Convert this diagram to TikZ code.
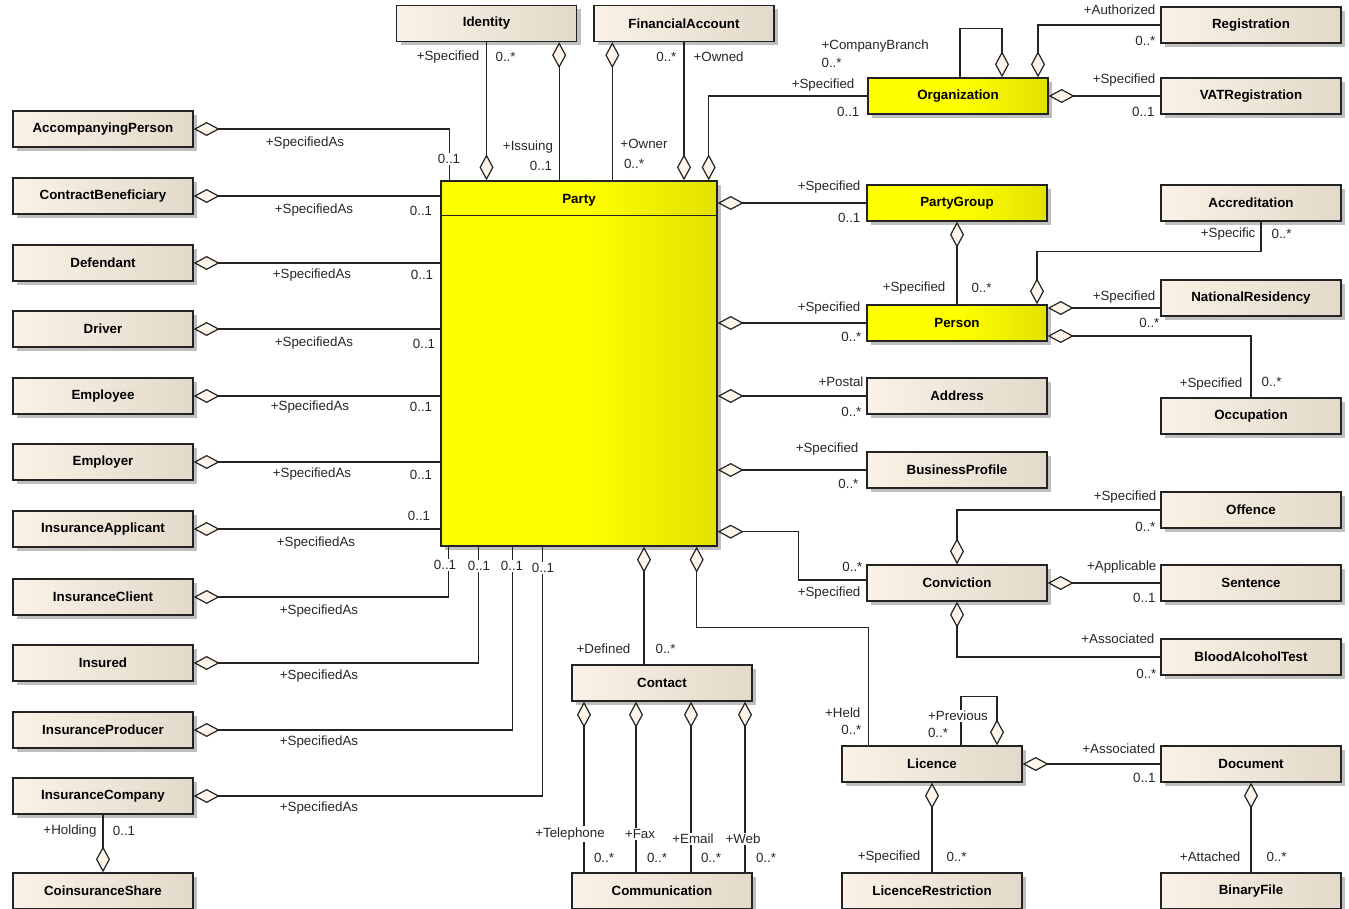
\documentclass[tikz,border=0pt]{standalone}
\usepackage{fontspec}
\setmainfont{Liberation Sans}
\usetikzlibrary{arrows.meta,shadows}

\definecolor{beigeL}{RGB}{250,242,230}
\definecolor{beigeD}{RGB}{226,217,202}
\definecolor{yelD}{RGB}{226,226,0}
\definecolor{diafill}{RGB}{253,245,233}
\definecolor{edge}{RGB}{35,35,35}

\pgfdeclarehorizontalshading{beigeshade}{100bp}{color(0bp)=(beigeL); color(25bp)=(beigeL); color(75bp)=(beigeD); color(100bp)=(beigeD)}
\pgfdeclarehorizontalshading{yelshade}{100bp}{color(0bp)=(yellow); color(25bp)=(yellow); color(50bp)=(yellow); color(75bp)=(yelD); color(100bp)=(yelD)}

\begin{document}
\begin{tikzpicture}[x=0.75pt,y=-0.75pt,
  cls/.style={draw=edge,line width=1pt,shade,shading=beigeshade,minimum width=135pt,minimum height=27pt,inner sep=0pt,
    font=\fontsize{10}{12}\selectfont\bfseries,drop shadow={shadow xshift=3pt,shadow yshift=-3pt,fill=black!25,opacity=1}},
  ycls/.style={cls,shading=yelshade},
  role/.style={font=\fontsize{10}{11}\selectfont,text=black!85,inner sep=1pt},
  cut/.style={role,fill=white},
  assoc/.style={draw=edge,line width=0.9pt},
  agg/.style={assoc,{Diamond[length=19.5pt,width=10.5pt,fill=diafill]}-}]
\useasboundingbox (0,0) rectangle (1349,909);

\node[ycls,minimum width=207pt,minimum height=273.75pt] (party) at (579,363.5) {};
\node[inner sep=0pt,font=\fontsize{10}{12}\selectfont\bfseries] (partyname) at (579,200) {Party};
\draw[line width=1pt,draw=edge] ([yshift=-26.25pt]party.north west) -- ([yshift=-26.25pt]party.north east);

% left column
\node[cls] (accp) at (103,129) {AccompanyingPerson};
\node[cls] (conb) at (103,196) {ContractBeneficiary};
\node[cls] (dfd) at (103,263) {Defendant};
\node[cls] (drv) at (103,329) {Driver};
\node[cls] (empe) at (103,396) {Employee};
\node[cls] (empr) at (103,462) {Employer};
\node[cls] (iapp) at (103,529) {InsuranceApplicant};
\node[cls] (icli) at (103,597) {InsuranceClient};
\node[cls] (insd) at (103,663) {Insured};
\node[cls] (iprd) at (103,730) {InsuranceProducer};
\node[cls] (icmp) at (103,796) {InsuranceCompany};
\node[cls] (coin) at (103,891) {CoinsuranceShare};

% top and right
\node[cls] (idn) at (486.5,23.5) {Identity};
\node[cls] (fin) at (684,23.5) {FinancialAccount};
\node[ycls] (org) at (958,96) {Organization};
\node[cls] (reg) at (1251,25) {Registration};
\node[cls] (vat) at (1251,96) {VATRegistration};
\node[ycls] (pgrp) at (957,203) {PartyGroup};
\node[cls] (accr) at (1251,203) {Accreditation};
\node[ycls] (pers) at (957,323) {Person};
\node[cls] (natr) at (1251,298) {NationalResidency};
\node[cls] (addr) at (957,396) {Address};
\node[cls] (occ) at (1251,416) {Occupation};
\node[cls] (bprf) at (957,470) {BusinessProfile};
\node[cls] (offn) at (1251,510) {Offence};
\node[cls] (conv) at (957,583) {Conviction};
\node[cls] (sent) at (1251,583) {Sentence};
\node[cls] (bat) at (1251,657) {BloodAlcoholTest};
\node[cls] (lic) at (932,764) {Licence};
\node[cls] (doc) at (1251,764) {Document};
\node[cls] (lres) at (932,891) {LicenceRestriction};
\node[cls] (bfil) at (1251,891) {BinaryFile};
\node[cls] (con) at (662,683) {Contact};
\node[cls] (comm) at (662,891) {Communication};

\coordinate (issA) at ([xshift=-13.5pt]idn.south east);
\coordinate (ownA) at ([xshift=14.25pt]fin.south west);
\coordinate (conA) at ([xshift=-13.5pt]con.north);
\coordinate (telA) at ([xshift=-58.5pt]con.south);
\coordinate (faxA) at ([xshift=-19.5pt]con.south);
\coordinate (emlA) at ([xshift=21.75pt]con.south);
\coordinate (webA) at ([xshift=62.25pt]con.south);

% connectors
\draw[agg] (accp.east) -| ([xshift=6.75pt]party.north west);
\draw[agg] (conb.east) -- (conb.east -| party.west);
\draw[agg] (dfd.east) -- (dfd.east -| party.west);
\draw[agg] (drv.east) -- (drv.east -| party.west);
\draw[agg] (empe.east) -- (empe.east -| party.west);
\draw[agg] (empr.east) -- (empr.east -| party.west);
\draw[agg] (iapp.east) -- (iapp.east -| party.west);
\draw[agg] (icli.east) -| ([xshift=6pt]party.south west);
\draw[agg] (insd.east) -| ([xshift=28.5pt]party.south west);
\draw[agg] (iprd.east) -| ([xshift=54pt]party.south west);
\draw[agg] (icmp.east) -| ([xshift=76.5pt]party.south west);
\draw[agg] (coin.north) -- (icmp.south);

\draw[agg] (idn.south |- party.north) -- (idn.south);
\draw[agg] (issA) -- (issA |- party.north);
\draw[agg] (ownA) -- (ownA |- party.north);
\draw[agg] (fin.south |- party.north) -- (fin.south);
\draw[agg] ([xshift=-6.75pt]party.north east) |- (org.west);
\draw[agg] ([xshift=33pt]org.north) -- ++(0,36.75pt) -| ([xshift=1.5pt]org.north);
\draw[agg] ([xshift=60pt]org.north) |- (reg.west);
\draw[agg] (org.east) -- (vat.west);

\draw[agg] (pgrp.west -| party.east) -- (pgrp.west);
\draw[agg] (pgrp.south) -- (pers.north);
\draw[agg] ([xshift=60pt]pers.north) -- ++(0,39.75pt) -| ([xshift=7.5pt]accr.south);
\draw[agg] (pers.west -| party.east) -- (pers.west);
\draw[agg] ([yshift=11.25pt]pers.east) -- ([yshift=11.25pt]pers.east -| natr.west);
\draw[agg] ([yshift=-9.75pt]pers.east) -| (occ.north);
\draw[agg] (addr.west -| party.east) -- (addr.west);
\draw[agg] (bprf.west -| party.east) -- (bprf.west);

\draw[agg] ([yshift=11.25pt]party.south east) -- ++(60.75pt,0) |- ([yshift=2.25pt]conv.west);
\draw[agg] (conv.north) |- (offn.west);
\draw[agg] (conv.east) -- (sent.west);
\draw[agg] (conv.south) |- (bat.west);

\draw[agg] (conA |- party.south) -- (conA);
\draw[agg] ([xshift=-15.75pt]party.south east) -- ++(0,-60.75pt) -| ([xshift=20.25pt]lic.north west);
\draw[agg] ([xshift=48.75pt]lic.north) -- ++(0,36.75pt) -| ([xshift=21.75pt]lic.north);
\draw[agg] (lic.east) -- (doc.west);
\draw[agg] (lic.south) -- (lres.north);
\draw[agg] (doc.south) -- (bfil.north);
\draw[agg] (telA) -- (telA |- comm.north);
\draw[agg] (faxA) -- (faxA |- comm.north);
\draw[agg] (emlA) -- (emlA |- comm.north);
\draw[agg] (webA) -- (webA |- comm.north);

% role names and multiplicities
\node[role] (sa1) at (305,143) {+SpecifiedAs};
\node[cut] (m1) at (449,159) {0..1};
\node[role] (sa2) at (314,210) {+SpecifiedAs};
\node[role] (m2) at (421,211) {0..1};
\node[role] (sa3) at (312,275) {+SpecifiedAs};
\node[role] (m3) at (422,275) {0..1};
\node[role] (sa4) at (314,343) {+SpecifiedAs};
\node[role] (m4) at (424,344) {0..1};
\node[role] (sa5) at (310,407) {+SpecifiedAs};
\node[role] (m5) at (421,407) {0..1};
\node[role] (sa6) at (312,474) {+SpecifiedAs};
\node[role] (m6) at (421,475) {0..1};
\node[role] (sa7) at (316,543) {+SpecifiedAs};
\node[role] (m7) at (419,516) {0..1};
\node[role] (sa8) at (319,611) {+SpecifiedAs};
\node[cut] (m8) at (445,565) {0..1};
\node[role] (sa9) at (319,676) {+SpecifiedAs};
\node[cut] (m9) at (479,566) {0..1};
\node[role] (sa10) at (319,742) {+SpecifiedAs};
\node[cut] (m10) at (512,566) {0..1};
\node[role] (sa11) at (319,808) {+SpecifiedAs};
\node[cut] (m11) at (543,568) {0..1};
\node[role] (hold) at (70,831) {+Holding};
\node[role] (holdm) at (124,831) {0..1};

\node[role,anchor=east] (idspec) at (481,57) {+Specified};
\node[role,anchor=west] (idspecm) at (494,57) {0..*};
\node[role] (issu) at (528,147) {+Issuing};
\node[role] (issum) at (541,166) {0..1};
\node[role] (ownr) at (644,144) {+Owner};
\node[role] (ownrm) at (634,164) {0..*};
\node[role,anchor=east] (ownd) at (678,57) {0..*};
\node[role,anchor=west] (owndm) at (692,57) {+Owned};

\node[role,anchor=east] (orgs) at (856,85) {+Specified};
\node[role,anchor=east] (orgsm) at (861,112) {0..1};
\node[role,anchor=west] (brch) at (820,46) {+CompanyBranch};
\node[role,anchor=west] (brchm) at (820,63) {0..*};
\node[role,anchor=east] (auth) at (1157,10) {+Authorized};
\node[role,anchor=east] (authm) at (1157,41) {0..*};
\node[role,anchor=east] (vats) at (1157,80) {+Specified};
\node[role,anchor=east] (vatsm) at (1156,112) {0..1};

\node[role,anchor=east] (pgs) at (862,187) {+Specified};
\node[role,anchor=east] (pgsm) at (862,218) {0..1};
\node[role,anchor=east] (pps) at (947,288) {+Specified};
\node[role,anchor=west] (ppsm) at (970,288) {0..*};
\node[role,anchor=east] (acs) at (1257,234) {+Specific};
\node[role,anchor=west] (acsm) at (1270,234) {0..*};
\node[role,anchor=east] (pes) at (862,308) {+Specified};
\node[role,anchor=east] (pesm) at (863,337) {0..*};
\node[role,anchor=east] (nrs) at (1157,297) {+Specified};
\node[role,anchor=east] (nrsm) at (1161,323) {0..*};
\node[role,anchor=east] (ocs) at (1244,384) {+Specified};
\node[role,anchor=west] (ocsm) at (1260,382) {0..*};
\node[role,anchor=east] (pst) at (865,382) {+Postal};
\node[role,anchor=east] (pstm) at (863,412) {0..*};
\node[role,anchor=east] (bps) at (860,449) {+Specified};
\node[role,anchor=east] (bpsm) at (860,484) {0..*};

\node[role,anchor=east] (cvm) at (864,567) {0..*};
\node[role,anchor=east] (cvs) at (862,593) {+Specified};
\node[role,anchor=east] (ofs) at (1158,497) {+Specified};
\node[role,anchor=east] (ofsm) at (1157,527) {0..*};
\node[role,anchor=east] (snt) at (1158,567) {+Applicable};
\node[role,anchor=east] (sntm) at (1157,598) {0..1};
\node[role,anchor=east] (bta) at (1156,639) {+Associated};
\node[role,anchor=east] (btam) at (1158,674) {0..*};

\node[role,anchor=east] (held) at (862,713) {+Held};
\node[role,anchor=east] (heldm) at (863,730) {0..*};
\node[cut] (prev) at (958,716) {+Previous};
\node[role] (prevm) at (938,733) {0..*};
\node[role,anchor=east] (dca) at (1157,749) {+Associated};
\node[role,anchor=east] (dcam) at (1157,778) {0..1};
\node[role,anchor=east] (lrs) at (922,857) {+Specified};
\node[role,anchor=west] (lrsm) at (945,857) {0..*};
\node[role,anchor=east] (att) at (1242,857) {+Attached};
\node[role,anchor=west] (attm) at (1265,857) {0..*};

\node[role,anchor=east] (dfn) at (632,649) {+Defined};
\node[role,anchor=west] (dfnm) at (654,649) {0..*};
\node[cut] (tel) at (570,834) {+Telephone};
\node[cut] (fax) at (640,834) {+Fax};
\node[cut] (eml) at (693,839) {+Email};
\node[cut] (web) at (743,839) {+Web};
\node[role] (telm) at (604,858) {0..*};
\node[role] (faxm) at (657,858) {0..*};
\node[role] (emlm) at (711,858) {0..*};
\node[role] (webm) at (766,858) {0..*};
\end{tikzpicture}
\end{document}
